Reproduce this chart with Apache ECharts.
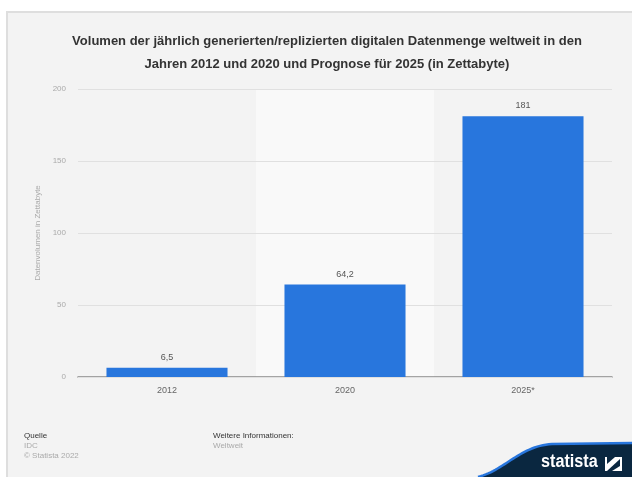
<!DOCTYPE html>
<html>
<head>
<meta charset="utf-8">
<script src="https://cdn.jsdelivr.net/npm/echarts@6/dist/echarts.min.js"></script>
<style>
html,body{margin:0;padding:0;background:#fff;}
#c{width:632px;height:477px;}
</style>
</head>
<body>
<div id="c"></div>
<script>
const categories = ['2012', '2020', '2025*'];
const values = [6.5, 64.2, 181];
const valueLabels = ['6,5', '64,2', '181'];
const yTicks = [0, 50, 100, 150, 200];

const chart = echarts.init(document.getElementById('c'), null, {renderer: 'canvas'});
const font = 'Helvetica, "Liberation Sans", Arial, sans-serif';

// logo curve (decoration)
const P0 = [478, 477], P1 = [505, 470], P2 = [520, 446], P3 = [552, 444];
function bez(t) {
  const u = 1 - t;
  return [
    u*u*u*P0[0] + 3*u*u*t*P1[0] + 3*u*t*t*P2[0] + t*t*t*P3[0],
    u*u*u*P0[1] + 3*u*u*t*P1[1] + 3*u*t*t*P2[1] + t*t*t*P3[1]
  ];
}
const curvePts = [];
for (let i = 0; i <= 30; i++) curvePts.push(bez(i / 30));
const darkPts = curvePts.concat([[632, 443], [632, 477]]);
const bluePts = curvePts.concat([[632, 443]]);

chart.setOption({
  backgroundColor: '#ffffff',
  animation: false,
  textStyle: {fontFamily: font},
  title: {
    text: 'Volumen der jährlich generierten/replizierten digitalen Datenmenge weltweit in den\nJahren 2012 und 2020 und Prognose für 2025 (in Zettabyte)',
    left: 322, top: 25, textAlign: 'center',
    textStyle: {fontSize: 13, fontWeight: 'bold', color: '#333', lineHeight: 23, fontFamily: font}
  },
  grid: {left: 78, right: 20, top: 89, bottom: 100},
  xAxis: {
    type: 'category',
    data: categories,
    z: 0,
    axisLine: {lineStyle: {color: '#888', width: 1.5}},
    axisTick: {show: false},
    axisLabel: {color: '#666', fontSize: 9, margin: 9, fontFamily: font},
    splitArea: {show: true, areaStyle: {color: ['rgba(0,0,0,0)', '#f9f9f9', 'rgba(0,0,0,0)']}}
  },
  yAxis: {
    type: 'value',
    z: 1,
    min: yTicks[0], max: yTicks[yTicks.length - 1], interval: 50,
    name: 'Datenvolumen in Zettabyte',
    nameLocation: 'middle', nameGap: 31, nameRotate: 90,
    nameTextStyle: {color: '#aaa', fontSize: 8, fontFamily: font},
    axisLine: {show: false},
    axisTick: {show: false},
    axisLabel: {color: '#aaa', fontSize: 8, margin: 12, fontFamily: font},
    splitLine: {lineStyle: {color: '#e0e0e0', width: 1}}
  },
  series: [{
    type: 'bar',
    data: values,
    barWidth: '68%',
    itemStyle: {color: '#2876dd'},
    label: {
      show: true, position: 'top', distance: 6, color: '#555', fontSize: 9, fontFamily: font,
      formatter: p => valueLabels[p.dataIndex]
    },
    z: 3
  }],
  graphic: [
    {type: 'rect', z: -10, shape: {x: 7, y: 12, width: 640, height: 480}, style: {fill: '#f3f3f3', stroke: '#dedede', lineWidth: 2}},
    {type: 'text', x: 24, y: 432, style: {text: 'Quelle', fill: '#333', fontSize: 8, fontFamily: font}},
    {type: 'text', x: 24, y: 442, style: {text: 'IDC', fill: '#aaa', fontSize: 8, fontFamily: font}},
    {type: 'text', x: 24, y: 452, style: {text: '© Statista 2022', fill: '#aaa', fontSize: 8, fontFamily: font}},
    {type: 'text', x: 213, y: 432, style: {text: 'Weitere Informationen:', fill: '#333', fontSize: 8, fontFamily: font}},
    {type: 'text', x: 213, y: 442, style: {text: 'Weltweit', fill: '#aaa', fontSize: 8, fontFamily: font}},
    {type: 'polygon', shape: {points: darkPts}, style: {fill: '#0a2740'}},
    {type: 'polyline', shape: {points: bluePts}, style: {stroke: '#2876dd', lineWidth: 2.5}},
    {type: 'text', x: 541, y: 453, scaleX: 0.9, style: {text: 'statista', fill: '#fff', fontSize: 18, fontWeight: 'bold', fontFamily: '"Liberation Sans", sans-serif'}},
    {type: 'rect', shape: {x: 605, y: 457, width: 17, height: 14}, style: {fill: '#fff'}},
    {type: 'polygon', shape: {points: [[607,471],[620,459],[620,466],[612,471]]}, style: {fill: '#0a2740'}},
    {type: 'polygon', shape: {points: [[607,457],[615,457],[607,464]]}, style: {fill: '#0a2740'}}
  ]
});
</script>
</body>
</html>
